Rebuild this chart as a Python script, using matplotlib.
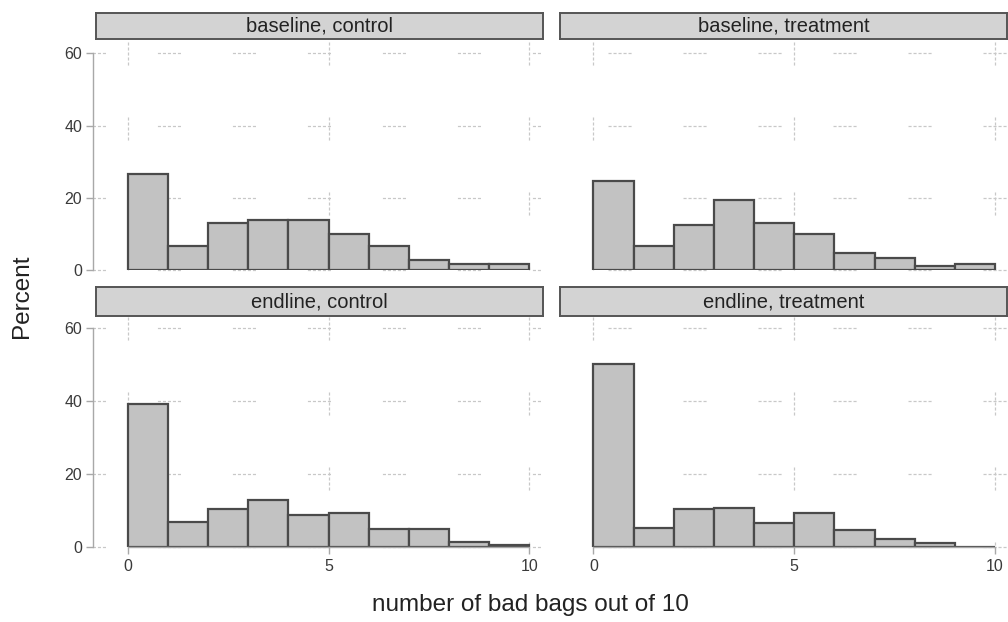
import numpy as np
import matplotlib.pyplot as plt

plt.rcParams['font.family'] = ['Liberation Sans', 'DejaVu Sans']
plt.rcParams['lines.scale_dashes'] = False

# Percent of households by number of bad bags (bins 0-1, 1-2, ..., 9-10)
bins = np.arange(10)
baseline_control = [26.7, 6.7, 12.9, 13.8, 13.8, 9.9, 6.7, 2.7, 1.6, 1.6]
baseline_treatment = [24.6, 6.7, 12.4, 19.5, 12.9, 9.9, 4.6, 3.2, 1.2, 1.7]
endline_control = [39.1, 6.7, 10.3, 12.8, 8.6, 9.2, 5.0, 5.0, 1.2, 0.5]
endline_treatment = [50.3, 5.1, 10.3, 10.7, 6.6, 9.2, 4.7, 2.1, 1.0, 0.0]

panel_titles = ["baseline, control", "baseline, treatment",
                "endline, control", "endline, treatment"]
panel_data = [baseline_control, baseline_treatment, endline_control, endline_treatment]

W, H = 1008, 622
fig = plt.figure(figsize=(W / 100, H / 100), dpi=100)

def px_box(x0, x1, ytop, ybot):
    return [x0 / W, 1 - ybot / H, (x1 - x0) / W, (ybot - ytop) / H]

# pixel layout: columns (plot x0, plot x1, strip x0, strip x1, grid offset)
cols = [(93.3, 541.0, 95.7, 542.7, 7.6), (559.0, 1006.7, 560.0, 1006.7, 18.7)]
# rows (plot top, plot bottom, strip top, strip bottom)
rows = [(53.3, 270.0, 12.7, 39.3), (328.3, 546.7, 287.3, 315.7)]

grid_col = '#c8c8c8'
grid_dash = (2.2, 1.4, 2.2, 1.4, 2.2, 1.4, 2.2, 1.4, 2.2, 37.4)
axis_col = '#a8a8a8'

for i, (title, vals) in enumerate(zip(panel_titles, panel_data)):
    r, c = divmod(i, 2)
    x0, x1, sx0, sx1, goff = cols[c]
    ytop, ybot, st, sb = rows[r]

    ax = fig.add_axes(px_box(x0, x1, ytop, ybot))
    ax.set_xlim(-0.857, 10.29)
    ax.set_ylim(0, 60)
    ax.patch.set_visible(False)

    # broken-looking dashed grid
    for yv in [0, 20, 40, 60]:
        ax.plot([-0.857, 10.29], [yv, yv], color=grid_col, lw=0.9,
                linestyle=(goff, grid_dash), zorder=0, clip_on=False)
    for xv in [0, 5, 10]:
        ax.plot([xv, xv], [63.1, 0], color=grid_col, lw=0.9,
                linestyle=(0, grid_dash), zorder=0, clip_on=False)

    ax.bar(bins, vals, width=1, align='edge', color='#c2c2c2',
           edgecolor='#4a4a4a', linewidth=1.6, zorder=2)

    for s in ['top', 'right']:
        ax.spines[s].set_visible(False)
    ax.spines['left'].set_color(axis_col)
    ax.spines['left'].set_linewidth(1.0)
    ax.spines['left'].set_bounds(0, 60)
    ax.spines['left'].set_visible(c == 0)

    ax.set_yticks([0, 20, 40, 60])
    if c == 0:
        ax.tick_params(axis='y', length=5, width=1.0, color=axis_col,
                       labelsize=11.5, labelcolor='#3a3a3a', pad=3)
    else:
        ax.tick_params(axis='y', left=False, labelleft=False)

    ax.set_xticks([0, 5, 10])
    if r == 1:
        ax.spines['bottom'].set_color(axis_col)
        ax.spines['bottom'].set_linewidth(1.0)
        ax.spines['bottom'].set_bounds(0, 10)
        ax.tick_params(axis='x', length=5, width=1.0, color=axis_col,
                       labelsize=11.5, labelcolor='#3a3a3a', pad=4)
    else:
        ax.spines['bottom'].set_visible(False)
        ax.tick_params(axis='x', bottom=False, labelbottom=False)

    # panel strip
    sax = fig.add_axes(px_box(sx0, sx1, st, sb))
    sax.set_xticks([])
    sax.set_yticks([])
    sax.set_facecolor('#d3d3d3')
    for sp in sax.spines.values():
        sp.set_color('#555555')
        sp.set_linewidth(1.4)
    sax.text(0.5, 0.5, title, ha='center', va='center', fontsize=14.5,
             color='#222222', transform=sax.transAxes)

fig.text(22 / W, 1 - 296 / H, "Percent", rotation=90, ha='center', va='center',
         fontsize=17.5, color='#222222')
fig.text(530 / W, 1 - 605 / H, "number of bad bags out of 10", ha='center',
         va='center', fontsize=17.5, color='#222222')

fig.savefig("out.png", dpi=100)
